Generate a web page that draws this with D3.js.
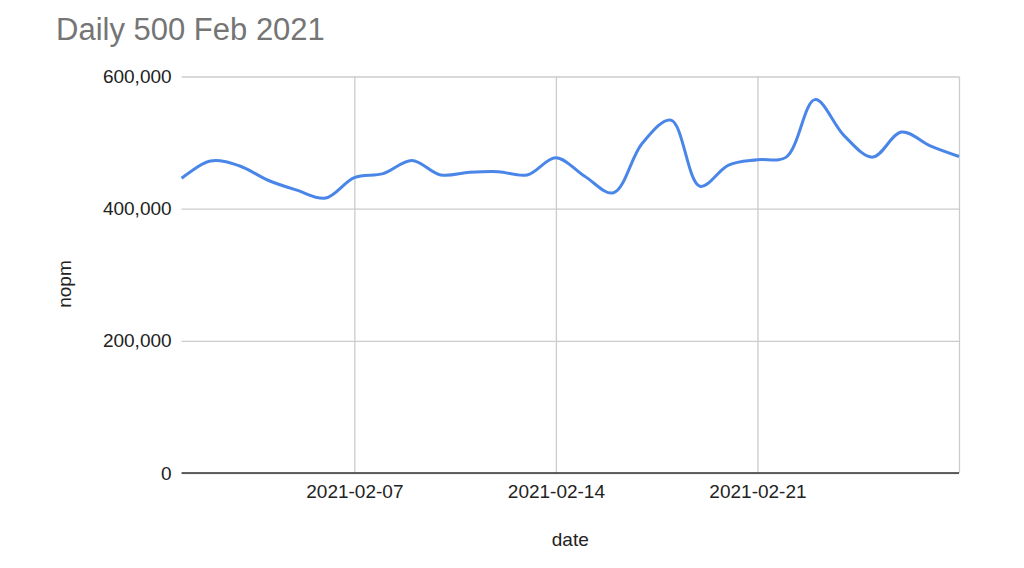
<!doctype html>
<meta charset="utf-8">
<title>Daily 500 Feb 2021</title>
<script src="https://cdn.jsdelivr.net/npm/d3@7"></script>
<style>
  body { margin: 0; background: #fff; }
  text { font-family: "Liberation Sans", Arial, sans-serif; }
</style>
<svg id="chart" width="1024" height="568"></svg>
<script>
  // daily values, 2021-02-01 .. 2021-02-28
  const days = d3.range(1, 29).map(d => new Date(2021, 1, d))
  const nopm = [
    446000, 472000, 465000, 443000, 428000, 416000, 447000, 453000, 473000, 451000,
    455000, 456000, 451000, 477000, 449000, 424000, 499000, 534000, 434000, 466000,
    474000, 478000, 565000, 511000, 478000, 516000, 495000, 479000
  ]
  const yTicks = [0, 200000, 400000, 600000]
  const xTicks = [7, 14, 21, 28].map(d => new Date(2021, 1, d))
  const xLabelTicks = [7, 14, 21].map(d => new Date(2021, 1, d))

  const margin = { top: 76.5, right: 65, bottom: 95, left: 181.6 }
  const svg = d3.select('#chart')
  const width = 1024 - margin.left - margin.right
  const height = 568 - margin.top - margin.bottom

  const x = d3.scaleTime().domain([days[0], days[days.length - 1]]).range([0, width])
  const y = d3.scaleLinear().domain([0, 600000]).range([height, 0])

  const g = svg.append('g').attr('transform', `translate(${margin.left},${margin.top})`)

  // horizontal grid
  g.append('g')
    .call(d3.axisLeft(y).tickValues(yTicks).tickSize(-width).tickFormat(''))
    .call(a => a.select('.domain').remove())
    .selectAll('line').attr('stroke', '#cccccc').attr('stroke-width', 1.3)

  // vertical grid
  g.append('g')
    .attr('transform', `translate(0,${height})`)
    .call(d3.axisBottom(x).tickValues(xTicks).tickSize(-height).tickFormat(''))
    .call(a => a.select('.domain').remove())
    .selectAll('line').attr('stroke', '#cccccc').attr('stroke-width', 1.3)

  // y labels
  g.append('g')
    .call(d3.axisLeft(y).tickValues(yTicks).tickSize(0).tickPadding(10).tickFormat(d3.format(',')))
    .call(a => a.select('.domain').remove())
    .selectAll('text').attr('font-size', 19).attr('fill', '#222')

  // x labels
  g.append('g')
    .attr('transform', `translate(0,${height})`)
    .call(d3.axisBottom(x).tickValues(xLabelTicks).tickSize(0).tickPadding(12).tickFormat(d3.timeFormat('%Y-%m-%d')))
    .call(a => a.select('.domain').remove())
    .selectAll('text').attr('font-size', 19).attr('fill', '#222')

  // baseline
  g.append('line')
    .attr('x1', 0).attr('x2', width)
    .attr('y1', y(0)).attr('y2', y(0))
    .attr('stroke', '#333').attr('stroke-width', 1.6)

  // line
  const line = d3.line()
    .x((d, i) => x(days[i]))
    .y(d => y(d))
    .curve(d3.curveCatmullRom.alpha(0.5))

  g.append('path')
    .datum(nopm)
    .attr('fill', 'none')
    .attr('stroke', '#4a86e8')
    .attr('stroke-width', 3)
    .attr('stroke-linejoin', 'round')
    .attr('d', line)

  // titles
  svg.append('text')
    .attr('x', 56).attr('y', 40)
    .attr('font-size', 31).attr('fill', '#757575')
    .text('Daily 500 Feb 2021')

  svg.append('text')
    .attr('x', margin.left + width / 2).attr('y', 546)
    .attr('text-anchor', 'middle').attr('font-size', 19).attr('fill', '#222')
    .text('date')

  svg.append('text')
    .attr('transform', 'translate(71,284) rotate(-90)')
    .attr('text-anchor', 'middle').attr('font-size', 19).attr('fill', '#222')
    .text('nopm')
</script>
